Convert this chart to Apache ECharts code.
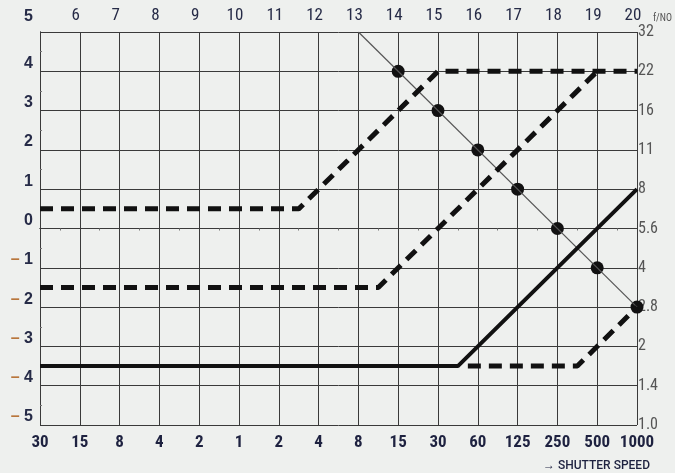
<!DOCTYPE html>
<html>
<head>
<meta charset="utf-8">
<script src="https://cdn.jsdelivr.net/npm/echarts@6/dist/echarts.min.js"></script>
<style>
  html, body { margin: 0; padding: 0; background: #eef0ee; }
  #chart { width: 675px; height: 473px; }
</style>
</head>
<body>
<div id="chart"></div>
<script>
// Shutter speeds along the bottom (seconds on the left, fractions on the right)
const shutterLabels = ['30', '15', '8', '4', '2', '1', '2', '4', '8', '15', '30', '60', '125', '250', '500', '1000'];
// Exposure values along the top
const evLabels = ['5', '6', '7', '8', '9', '10', '11', '12', '13', '14', '15', '16', '17', '18', '19', '20'];
// Aperture values on the right, bottom to top
const fNumbers = ['1.0', '1.4', '2', '2.8', '4', '5.6', '8', '11', '16', '22', '32'];
// Stop scale on the left, bottom to top
const stopValues = [-5, -4, -3, -2, -1, 0, 1, 2, 3, 4, 5];

// Program curves: [shutter step, stop]
const programUpper = [[0, 0.5], [6.5, 0.5], [10, 4], [15, 4]];
const programMiddle = [[0, -1.5], [8.5, -1.5], [14, 4]];
const programSolid = [[0, -3.5], [10.5, -3.5], [15, 1]];
const programLower = [[10.75, -3.5], [13.5, -3.5], [15, -2]];
// Equal-exposure diagonal and its marked points
const evDiagonal = [[8, 5], [15, -2]];
const evPoints = [[9, 4], [10, 3], [11, 2], [12, 1], [13, 0], [14, -1], [15, -2]];

const condensed = "'Roboto Condensed', 'Open Sans Condensed', sans-serif";
const plain = "'Liberation Sans', Arial, sans-serif";
const navy = '#262b47';
const minusColor = '#b8763c';
const gridColor = '#3a3a3a';

const chart = echarts.init(document.getElementById('chart'), null, { renderer: 'canvas' });

const dashed = { type: [13, 8], width: 5, color: '#111' };

chart.setOption({
  backgroundColor: '#eef0ee',
  animation: false,
  grid: { left: 40, right: 38, top: 32, bottom: 48 },
  xAxis: [
    {
      type: 'value', position: 'bottom', min: 0, max: 15, interval: 1,
      axisLine: { show: true, lineStyle: { color: gridColor, width: 1 } },
      axisTick: { show: true, length: 3, lineStyle: { color: gridColor } },
      minorTick: { show: true, splitNumber: 2, length: 2, lineStyle: { color: '#777' } },
      splitLine: { show: true, lineStyle: { color: gridColor, width: 1 } },
      axisLabel: {
        margin: 9, color: '#1e2240', fontFamily: condensed, fontWeight: 'bold', fontSize: 17,
        hideOverlap: false, showMinLabel: true, showMaxLabel: true,
        formatter: v => shutterLabels[Math.round(v)] || ''
      }
    },
    {
      type: 'value', position: 'top', min: 0, max: 15, interval: 1,
      axisLine: { show: true, lineStyle: { color: gridColor, width: 1 } },
      axisTick: { show: false },
      splitLine: { show: false },
      axisLabel: {
        margin: 8, color: navy, fontFamily: condensed, fontSize: 17,
        padding: [0, 8, 0, 0], hideOverlap: false, showMaxLabel: true,
        formatter: v => (v === 0 ? '' : evLabels[Math.round(v)])
      }
    }
  ],
  yAxis: [
    {
      type: 'value', position: 'left', min: -5, max: 5, interval: 1,
      axisLine: { show: true, lineStyle: { color: gridColor, width: 1 } },
      axisTick: { show: false },
      splitLine: { show: true, lineStyle: { color: gridColor, width: 1 } },
      axisLabel: {
        margin: 7, verticalAlign: 'bottom', align: 'right', hideOverlap: false,
        showMinLabel: true, showMaxLabel: true,
        color: navy, fontWeight: 'bold', fontSize: 16, fontFamily: plain,
        formatter: v => {
          const s = stopValues.find(x => x === v);
          if (s === undefined) return '';
          if (s === 5) return '{top|5}';
          if (s < 0) return '{m|–} {n|' + Math.abs(s) + '}';
          return '{n|' + s + '}';
        },
        rich: {
          top: { color: navy, fontWeight: 'bold', fontSize: 16, fontFamily: plain, padding: [0, 0, 7, 0] },
          m: { color: minusColor, fontSize: 16, fontFamily: plain },
          n: { color: navy, fontWeight: 'bold', fontSize: 16, fontFamily: plain }
        }
      }
    },
    {
      type: 'value', position: 'right', min: -5, max: 5, interval: 1,
      axisLine: { show: true, lineStyle: { color: gridColor, width: 1 } },
      axisTick: { show: true, inside: false, length: 5, lineStyle: { color: gridColor } },
      minorTick: { show: true, splitNumber: 2, length: 2, lineStyle: { color: '#777' } },
      splitLine: { show: false },
      axisLabel: {
        margin: 1, color: '#555', fontFamily: condensed, fontSize: 16,
        hideOverlap: false, showMinLabel: true, showMaxLabel: true,
        formatter: v => fNumbers[Math.round(v) + 5] || ''
      }
    }
  ],
  graphic: [
    {
      type: 'text', right: 3, top: 13,
      style: { text: 'f/NO', fill: '#555', font: '10px ' + condensed }
    },
    {
      type: 'text', left: 543, top: 460,
      style: { text: '→ SHUTTER SPEED', fill: '#1e2240', font: '500 12px Roboto, sans-serif' }
    }
  ],
  series: [
    {
      type: 'line', data: evDiagonal, symbol: 'none', silent: true,
      lineStyle: { color: '#555', width: 1.2 }
    },
    {
      type: 'line', data: programUpper, symbol: 'none', silent: true, lineStyle: dashed
    },
    {
      type: 'line', data: programMiddle, symbol: 'none', silent: true, lineStyle: dashed
    },
    {
      type: 'line', data: programSolid, symbol: 'none', silent: true,
      lineStyle: { color: '#111', width: 4 }
    },
    {
      type: 'line', data: programLower, symbol: 'none', silent: true, lineStyle: dashed
    },
    {
      type: 'scatter', data: evPoints, symbolSize: 13, clip: false, silent: true,
      itemStyle: { color: '#111', opacity: 1 }
    }
  ]
});
</script>
</body>
</html>
